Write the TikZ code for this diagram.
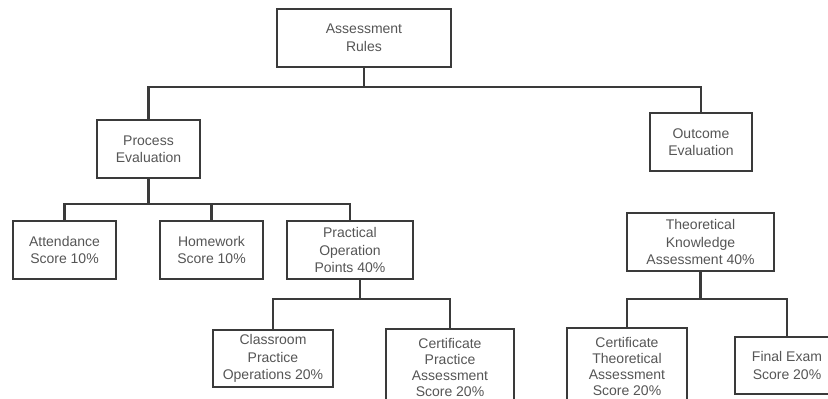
\documentclass[tikz,border=0pt]{standalone}
\usepackage{fontspec}
\setmainfont{Liberation Sans}
\definecolor{linegray}{HTML}{3A3A3A}
\definecolor{textgray}{HTML}{555555}

\begin{document}
\begin{tikzpicture}[x=1pt,y=-1pt,
    rulebox/.style={draw=linegray,line width=2.2pt,align=center,inner sep=0pt,
        text=textgray,font=\fontsize{14}{17.5}\selectfont},
    tallbox/.style={rulebox,minimum width=#1,minimum height=76,
        font=\fontsize{14}{16}\selectfont},
    link/.style={draw=linegray,line width=2.2pt}]
\clip (0,0) rectangle (828,399);
\useasboundingbox (0,0) rectangle (828,399);
\node[rulebox,minimum width=174,minimum height=58] (root) at (364,38) {Assessment\\Rules};
\node[rulebox,minimum width=103,minimum height=58] (proc) at (148.5,149) {Process\\Evaluation};
\node[rulebox,minimum width=102,minimum height=58] (outc) at (701,142) {Outcome\\Evaluation};
\node[rulebox,minimum width=103,minimum height=58] (att) at (64.5,250) {Attendance\\Score 10\%};
\node[rulebox,minimum width=103,minimum height=58] (hw) at (211.5,250) {Homework\\Score 10\%};
\node[rulebox,minimum width=126,minimum height=58] (prac) at (350,250) {Practical\\Operation\\Points 40\%};
\node[rulebox,minimum width=147,minimum height=58] (theo) at (700.5,242) {Theoretical\\Knowledge\\Assessment 40\%};
\node[rulebox,minimum width=120,minimum height=57] (class) at (273,358.5) {Classroom\\Practice\\Operations 20\%};
\node[tallbox=128] (certp) at (450,367) {Certificate\\Practice\\Assessment\\Score 20\%};
\node[tallbox=120] (certt) at (627,366) {Certificate\\Theoretical\\Assessment\\Score 20\%};
\node[rulebox,minimum width=104,minimum height=57] (final) at (787,365.5) {Final Exam\\Score 20\%};
% tree lines
\foreach \k in {proc,outc}
  \draw[link] (root.south) -- ++(0,19) -| (\k.north);
\foreach \k in {att,hw,prac}
  \draw[link] (proc.south) -- ++(0,25) -| (\k.north);
\foreach \k in {class,certp}
  \draw[link] ([xshift=10]prac.south) -- ++(0,19) -| (\k.north);
\foreach \k in {certt,final}
  \draw[link] (theo.south) -- ++(0,27) -| (\k.north);
\end{tikzpicture}
\end{document}
